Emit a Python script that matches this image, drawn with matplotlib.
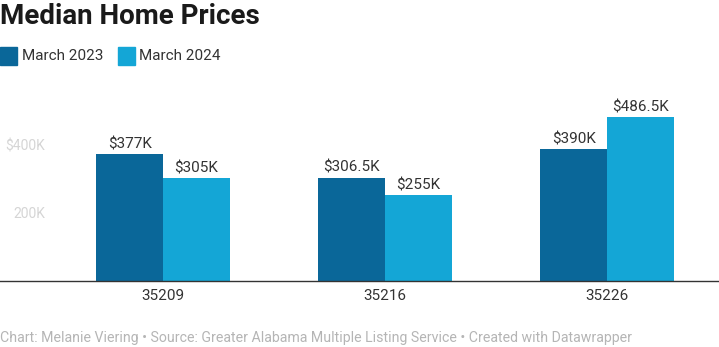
import matplotlib.pyplot as plt
import numpy as np

plt.rcParams['font.family'] = ['Roboto', 'DejaVu Sans']

# Data
zip_codes = ['35209', '35216', '35226']
prices_2023 = [377, 306.5, 390]
prices_2024 = [305, 255, 486.5]
labels_2023 = ['$377K', '$306.5K', '$390K']
labels_2024 = ['$305K', '$255K', '$486.5K']
series_names = ['March 2023', 'March 2024']
ytick_values = [200, 400]
ytick_labels = ['200K', '$400K']

dark_blue = '#0a6799'
light_blue = '#14a6d6'

# Figure in pixel size 719x347
fig = plt.figure(figsize=(7.19, 3.47), dpi=100)
ax = fig.add_axes([0, 66 / 347, 1, 191 / 347])

ind = np.arange(len(zip_codes))
width = 0.30

bars1 = ax.bar(ind - width / 2, prices_2023, width, color=dark_blue)
bars2 = ax.bar(ind + width / 2, prices_2024, width, color=light_blue)

# Value labels above bars
for rect, lab in zip(bars1, labels_2023):
    ax.text(rect.get_x() + rect.get_width() / 2, rect.get_height() + 8, lab,
            ha='center', va='bottom', fontsize=11, color='#333333')
for rect, lab in zip(bars2, labels_2024):
    ax.text(rect.get_x() + rect.get_width() / 2, rect.get_height() + 8, lab,
            ha='center', va='bottom', fontsize=11, color='#333333')

ax.set_xlim(-163 / 222, 556 / 222)
ax.set_ylim(0, 566)

# Axis styling
for side in ['top', 'right', 'left']:
    ax.spines[side].set_visible(False)
ax.spines['bottom'].set_color('#333333')
ax.spines['bottom'].set_linewidth(1)
ax.set_yticks([])
ax.set_xticks(ind)
ax.set_xticklabels(zip_codes, fontsize=11, color='#333333')
ax.tick_params(axis='x', length=0, pad=6)

# Faint y labels inside the plot area
for v, lab in zip(ytick_values, ytick_labels):
    ax.text(-118 / 222, v, lab, ha='right', va='center', fontsize=10, color='#d5d5d5')

# Title
fig.text(0.0, 1 - 17 / 347, 'Median Home Prices', fontsize=20, fontweight='bold',
         color='#1a1a1a', ha='left', va='center')

# Legend
fig.patches.append(plt.Rectangle((0 / 719, 1 - 65 / 347), 17 / 719, 18 / 347,
                                 transform=fig.transFigure, color=dark_blue))
fig.text(22 / 719, 1 - 56 / 347, series_names[0], fontsize=11, color='#333333',
         ha='left', va='center')
fig.patches.append(plt.Rectangle((118 / 719, 1 - 65 / 347), 17 / 719, 18 / 347,
                                 transform=fig.transFigure, color=light_blue))
fig.text(139 / 719, 1 - 56 / 347, series_names[1], fontsize=11, color='#333333',
         ha='left', va='center')

# Footer
fig.text(0.0, 1 - 338 / 347,
         'Chart: Melanie Viering \u2022 Source: Greater Alabama Multiple Listing Service \u2022 Created with Datawrapper',
         fontsize=10.2, color='#b5b5b5', ha='left', va='center')

fig.savefig('out.png', dpi=100)
